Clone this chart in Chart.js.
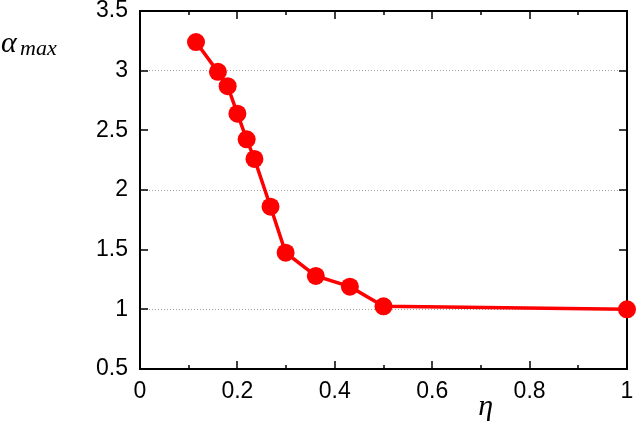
<!DOCTYPE html>
<html>
<head>
<meta charset="utf-8">
<script src="https://cdn.jsdelivr.net/npm/chart.js@4"></script>
<style>
  html, body { margin: 0; padding: 0; background: #fff; }
  #wrap { width: 641px; height: 425px; }
</style>
</head>
<body>
<div id="wrap"><canvas id="chart" width="641" height="425"></canvas></div>
<script>
// eta values (x) and alpha_max values (y)
const etaValues = [0.115, 0.16, 0.18, 0.2, 0.219, 0.235, 0.268, 0.299, 0.361, 0.431, 0.5, 1.0];
const alphaMaxValues = [3.24, 2.99, 2.87, 2.64, 2.425, 2.26, 1.86, 1.475, 1.28, 1.19, 1.025, 1.0];

const xTickStep = 0.2;
const xMinorStep = 0.1;
const yTickStep = 0.5;

const points = etaValues.map((x, i) => ({ x: x, y: alphaMaxValues[i] }));

// draws the closed frame and inward gnuplot-style ticks on all four sides
const framePlugin = {
    id: 'frame',
    beforeDatasetsDraw(chart) {
        const { ctx, chartArea: a, scales } = chart;
        ctx.save();
        ctx.strokeStyle = '#000';
        ctx.lineWidth = 2;
        ctx.strokeRect(a.left, a.top, a.right - a.left, a.bottom - a.top);

        ctx.lineWidth = 1.5;
        ctx.beginPath();
        // x ticks, major and minor
        for (let v = 0; v <= 1.0001; v += xMinorStep) {
            const px = Math.round(scales.x.getPixelForValue(v));
            const major = Math.abs(v / xTickStep - Math.round(v / xTickStep)) < 1e-6;
            const len = major ? 8 : 4;
            ctx.moveTo(px, a.bottom);
            ctx.lineTo(px, a.bottom - len);
            ctx.moveTo(px, a.top);
            ctx.lineTo(px, a.top + len);
        }
        // y ticks
        for (let v = 0.5; v <= 3.5001; v += yTickStep) {
            const py = Math.round(scales.y.getPixelForValue(v));
            ctx.moveTo(a.left, py);
            ctx.lineTo(a.left + 8, py);
            ctx.moveTo(a.right, py);
            ctx.lineTo(a.right - 8, py);
        }
        ctx.stroke();
        ctx.restore();
    },
    afterDraw(chart) {
        const { ctx, chartArea: a } = chart;
        ctx.save();
        ctx.fillStyle = '#000';
        ctx.textBaseline = 'alphabetic';
        ctx.textAlign = 'left';
        // y title: alpha_max
        ctx.font = 'italic 30px "Liberation Serif", "DejaVu Serif", serif';
        ctx.fillText('α', a.left - 139, a.top + 41);
        ctx.font = 'italic 22px "Liberation Serif", "DejaVu Serif", serif';
        ctx.fillText('max', a.left - 120, a.top + 44);
        // x title: eta
        ctx.textAlign = 'center';
        ctx.font = 'italic 30px "Liberation Serif", "DejaVu Serif", serif';
        ctx.fillText('η', a.left + 0.71 * (a.right - a.left), 415);
        ctx.restore();
    }
};

const tickFont = { family: '"Liberation Sans", Arial, sans-serif', size: 23, lineHeight: 1 };

new Chart(document.getElementById('chart').getContext('2d'), {
    type: 'scatter',
    data: {
        datasets: [{
            data: points,
            showLine: true,
            borderColor: '#ff0000',
            backgroundColor: '#ff0000',
            borderWidth: 3.5,
            pointRadius: 9,
            pointBorderWidth: 0,
            pointHoverRadius: 9,
            clip: false,
        }],
    },
    options: {
        responsive: false,
        devicePixelRatio: 1,
        animation: false,
        layout: { padding: { top: 11, right: 14, left: 0, bottom: 0 } },
        plugins: {
            legend: { display: false },
            tooltip: { enabled: false },
        },
        scales: {
            x: {
                type: 'linear',
                min: 0,
                max: 1,
                grid: { display: false, drawTicks: false },
                border: { display: false },
                ticks: {
                    stepSize: xTickStep,
                    color: '#000',
                    font: tickFont,
                    padding: 11,
                    maxRotation: 0,
                    callback: (v) => String(parseFloat(v.toFixed(1))),
                },
                afterFit: (scale) => {
                    scale.height = 56;
                    scale.paddingLeft = 0;
                    scale.paddingRight = 0;
                },
            },
            y: {
                type: 'linear',
                min: 0.5,
                max: 3.5,
                grid: {
                    drawTicks: false,
                    lineWidth: 1,
                    color: (c) => (c.tick && Math.abs(c.tick.value % 1) < 1e-6 ? '#a0a0a0' : 'rgba(0,0,0,0)'),
                },
                border: { display: false, dash: [1, 2] },
                ticks: {
                    stepSize: yTickStep,
                    color: '#000',
                    font: tickFont,
                    padding: 12,
                    callback: (v) => String(parseFloat(v.toFixed(1))),
                },
                afterFit: (scale) => {
                    scale.width = 140;
                    scale.paddingTop = 0;
                    scale.paddingBottom = 0;
                },
            },
        },
    },
    plugins: [framePlugin],
});
</script>
</body>
</html>
